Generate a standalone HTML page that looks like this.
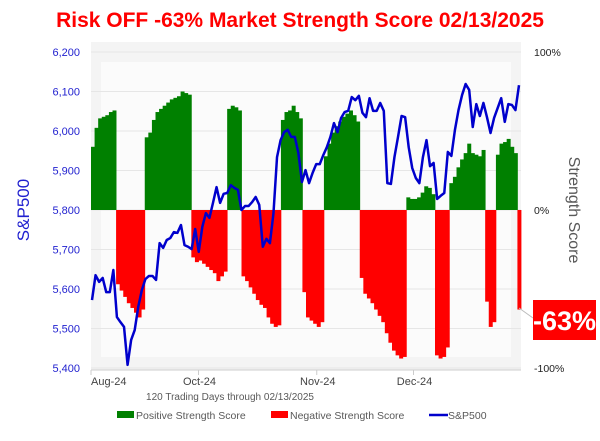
<!DOCTYPE html>
<html><head><meta charset="utf-8">
<style>
html,body{margin:0;padding:0;background:#fff;}
body{width:600px;height:436px;overflow:hidden;font-family:"Liberation Sans",Arial,sans-serif;}
</style></head>
<body>
<svg id="chart" width="600" height="436" xmlns="http://www.w3.org/2000/svg">
<text x="300" y="27" text-anchor="middle" font-size="21" font-weight="bold" fill="#ff0000">Risk OFF -63% Market Strength Score 02/13/2025</text>
<rect x="91" y="42" width="430" height="328" fill="#f4f4f4"/>
<rect x="101" y="62" width="410" height="295" fill="#fbfbfb"/>
<g id="grid"></g>
<g id="bars"></g>
<g id="line"></g>
<g id="axes"></g>
<line x1="519" y1="308" x2="533" y2="318" stroke="#bbb" stroke-width="1"/>
<rect x="533" y="300" width="63" height="40" fill="#ff0000"/>
<text x="564.5" y="330" text-anchor="middle" font-size="27" font-weight="bold" fill="#fff">-63%</text>
<text transform="translate(29,210) rotate(-90)" text-anchor="middle" font-size="17" fill="#1f1fcf">S&amp;P500</text>
<text transform="translate(569,210) rotate(90)" text-anchor="middle" font-size="16" fill="#595959">Strength Score</text>
<text x="230" y="400" text-anchor="middle" font-size="10" fill="#595959">120 Trading Days through 02/13/2025</text>
<g>
<rect x="117" y="411" width="17" height="7" fill="#008000"/>
<text x="136" y="419" font-size="10.5" fill="#595959">Positive Strength Score</text>
<rect x="271" y="411" width="17" height="7" fill="#ff0000"/>
<text x="290" y="419" font-size="10.5" fill="#595959">Negative Strength Score</text>
<line x1="429" y1="415" x2="448" y2="415" stroke="#0000cc" stroke-width="2.5"/>
<text x="448" y="419" font-size="10.5" fill="#595959">S&amp;P500</text>
</g>
</svg>
<script>
const scores = [40,52,58,59,60,62,63,
-47,-51,-55,-59,-62,-65,-68,-63,
46,49,57,62,64,66,68,70,71,72,75,74,73,
-30,-33,-32,-34,-36,-38,-40,-45,-42,-39,
64,66,65,63,
-42,-45,-49,-53,-57,-60,-62,-68,-72,-74,-73,
57,62,63,66,62,58,
-52,-68,-70,-72,-74,-71,
34,42,49,53,56,59,61,63,60,56,
-43,-53,-56,-59,-63,-67,-71,-78,-84,-89,-92,-94,-93,
8,7,7,8,11,15,14,10,
-92,-94,-93,-87,
17,21,27,32,36,42,36,35,34,38,
-58,-74,-71,
35,42,43,45,40,36,
-63];
const spx = [5572,5635,5618,5628,5592,5592,5648,5529,5516,5504,5408,5471,5496,5555,5597,5625,5633,5633,5623,5716,
5704,5724,5729,5744,5742,5762,5711,5707,5701,5752,5694,5757,5792,5780,5818,5858,5818,5841,5843,5863,
5856,5851,5800,5810,5810,5820,5833,5813,5707,5727,5716,5792,5934,5977,5997,6003,5985,5985,5944,5871,
5901,5868,5894,5916,5916,5939,5959,5985,6020,5997,6033,6048,6051,6086,6078,6089,6046,6035,6083,6051,
6051,6071,6051,5868,5866,5934,5985,6038,6035,5959,5906,5881,5868,5934,5977,5911,5919,5828,5836,5843,
5947,5937,6003,6053,6091,6119,6104,6010,6068,6038,6071,6035,5995,6033,6058,6083,6023,6068,6066,6053,6116];
const leftTicks = [5400,5500,5600,5700,5800,5900,6000,6100,6200];
const rightTicks = [-100,0,100];
const monthLabels = ["Aug-24","Oct-24","Nov-24","Dec-24"];
const monthIdx = [0,30,63,90];

const NS="http://www.w3.org/2000/svg";
const X0=91, X1=521;
const xBar = i => X0 + i*(X1-X0)/scores.length;
const xLine = i => 92 + i*(X1-2-92)/(spx.length-1);
const yScore = v => 210 - v*1.58;
const yPx = v => 368 - (v-5400)*(316/800);
function mk(tag, attrs, parent){const e=document.createElementNS(NS,tag);for(const k in attrs)e.setAttribute(k,attrs[k]);parent.appendChild(e);return e;}
const grid=document.getElementById('grid'), bars=document.getElementById('bars'), lineG=document.getElementById('line'), axes=document.getElementById('axes');
leftTicks.forEach(t=>{
  const g=mk('line',{x1:X0,x2:X1,y1:yPx(t),y2:yPx(t),stroke:'#e6e6e6','stroke-width':1},grid);
  
  
  const tx=mk('text',{x:80,y:yPx(t)+4,'text-anchor':'end','font-size':11,fill:'#1f1fcf'},axes);
  tx.textContent=t.toLocaleString('en-US');
  
  
});
rightTicks.forEach(t=>{
  const tx=mk('text',{x:534,y:yScore(t)+4,'font-size':10.5,fill:'#222'},axes);
  tx.textContent=t+'%';
  
  
});
monthLabels.forEach((m,k)=>{
  const x=xBar(monthIdx[k]);
  mk('line',{x1:x,x2:x,y1:370,y2:375,stroke:'#ccc'},axes);
  const tx=mk('text',{x:k===0?x:x+1,y:385,'text-anchor':k===0?'start':'middle','font-size':11,fill:'#444'},axes);
  tx.textContent=m;
  
  
});
mk('line',{x1:X0,x2:X1,y1:370,y2:370,stroke:'#ccc'},axes);
const w=(X1-X0)/scores.length;
scores.forEach((v,i)=>{
  const y=Math.min(yScore(v),210), h=Math.abs(yScore(v)-210);
  const r=mk('rect',{x:xBar(i),y:y,width:w+0.4,height:h,fill:v>=0?'#008000':'#ff0000'},bars);
  
  
});
const pl=mk('polyline',{points:spx.map((v,i)=>xLine(i)+','+yPx(v)).join(' '),fill:'none',stroke:'#0000cc','stroke-width':2.5,'stroke-linejoin':'round'},lineG);


</script>
</body></html>
